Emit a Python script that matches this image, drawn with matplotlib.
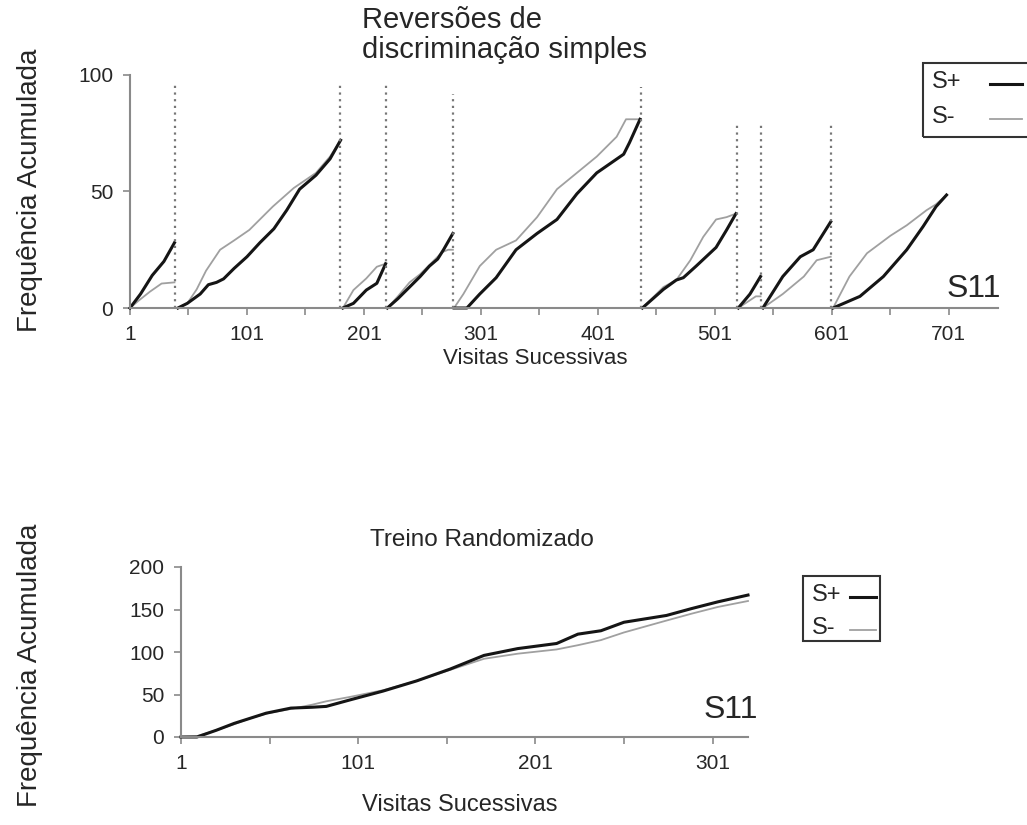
import matplotlib
matplotlib.use('Agg')
import matplotlib.pyplot as plt
from matplotlib.ticker import MultipleLocator, FixedLocator
from matplotlib.patches import Rectangle
from matplotlib.lines import Line2D

plt.rcParams['font.family'] = ['Liberation Sans', 'DejaVu Sans']

# ---- top panel: reversals, one list per phase ----
splus_x = [[1, 10, 20, 30, 39],
           [42, 50, 61, 68, 75, 81, 90, 101, 112, 124, 135, 146, 160, 172, 181],
           [183, 192, 203, 212, 219.5],
           [221, 230, 240, 249, 257, 264, 269, 277],
           [278, 289, 300, 314, 331, 349, 366, 383, 400, 423, 428, 437],
           [439, 457, 468, 474, 485, 502, 511, 519],
           [521, 531, 540],
           [542, 559, 574, 585, 600],
           [602, 625, 645, 665, 679, 690, 699]]
splus_y = [[0, 6, 14, 20, 28],
           [0, 2, 6, 10, 11, 12.5, 17, 22, 28, 34, 42, 51, 57, 64, 72],
           [0, 2, 7.7, 10.6, 19],
           [0, 4, 9, 13.5, 18, 21, 25, 32],
           [0, 0, 6, 13, 25, 32, 38, 49, 58, 66, 71, 81],
           [0, 8, 12, 13, 18, 26, 33.5, 40.5],
           [0, 6, 13.5],
           [0, 13.5, 22, 25, 37],
           [0, 5, 13.5, 25, 35, 43.5, 48.5]]
sminus_x = [[1, 8, 18, 28, 39],
            [42, 50, 58, 66, 78, 90, 103, 123, 141, 160, 172, 181],
            [183, 192, 203, 212, 219.5],
            [221, 230, 240, 249, 258, 268, 273, 277],
            [278, 286, 300, 314, 331, 349, 366, 383, 400, 417, 425, 437],
            [439, 457, 468, 480, 491, 502, 511, 519],
            [521, 530, 536, 540],
            [542, 559, 577, 588, 600],
            [602, 616, 631, 651, 665, 682, 690, 699]]
sminus_y = [[0, 3, 7, 10.5, 11],
            [0, 2, 8, 16, 25, 29, 33.5, 43.5, 51.5, 58, 65, 72],
            [0, 7.7, 12.7, 17.7, 19],
            [0, 5, 11, 14.5, 19, 24, 25, 25],
            [0, 6, 18, 25, 29, 39, 51, 58, 65, 73.5, 81, 81],
            [0, 9, 12, 20.5, 30.5, 38, 39, 40.5],
            [0, 3, 5, 5],
            [0, 6, 13.5, 20.5, 22],
            [0, 13.5, 23.5, 31, 35.5, 42, 44.5, 48.5]]
rev_x = [39.5, 180.5, 219.5, 277.5, 437.5, 519.5, 540.5, 600.5]
rev_top = [97, 97, 97, 92, 95, 79, 79, 79]

# ---- bottom panel: randomized training ----
rand_plus_x = [1, 10, 21, 31, 40, 49, 63, 75, 83, 97, 115, 134, 153, 172, 191, 213, 225, 238, 251, 275, 289, 304, 321]
rand_plus_y = [0, 0, 8, 16, 22, 28, 34, 35, 36, 44, 54, 66, 80, 96, 104, 110, 121, 125, 135, 143, 151, 159, 167]
rand_minus_x = [1, 10, 21, 31, 40, 50, 63, 75, 83, 96, 115, 134, 153, 172, 191, 213, 225, 238, 251, 275, 289, 304, 321]
rand_minus_y = [0, 1, 8, 15, 22, 28, 33, 38, 42, 47, 55, 66, 79, 92, 98, 103, 108, 114, 123, 137, 145, 153, 160]

BLACK = '#151515'
GRAY = '#a0a0a0'
AXC = '#8a8a8a'
TXT = '#262626'

W, H = 1027, 825
fig = plt.figure(figsize=(W / 100, H / 100), dpi=100)


def fx(x, y):
    # pixel position (from top left) -> figure fraction
    return x / W, 1 - y / H


def style_axes(ax):
    for s in ['top', 'right']:
        ax.spines[s].set_visible(False)
    for s in ['left', 'bottom']:
        ax.spines[s].set_color(AXC)
        ax.spines[s].set_linewidth(1.5)
    ax.tick_params(which='both', direction='out', length=5, width=1.2, color=AXC,
                   labelsize=15, labelcolor=TXT, pad=7)
    ax.tick_params(axis='x', pad=7)


def box_legend(x0, y0, x1, y1, rows, fs):
    # rows: (label, text x, line x0, line x1, y, color, lw)
    fig.patches.append(Rectangle(fx(x0, y1), (x1 - x0) / W, (y1 - y0) / H,
                                 transform=fig.transFigure, fill=False,
                                 edgecolor='#333333', lw=1.5))
    for lab, tx, lx0, lx1, y, c, lw in rows:
        fig.text(*fx(tx, y), lab, ha='left', va='center', fontsize=fs, color=TXT)
        a, b = fx(lx0, y + 2)
        c2, _ = fx(lx1, y + 2)
        fig.lines.append(Line2D([a, c2], [b, b], transform=fig.transFigure, color=c, lw=lw))


ax1 = fig.add_axes([130 / W, 1 - 308 / H, 868 / W, 233 / H])
for xs, ys in zip(sminus_x, sminus_y):
    ax1.plot(xs, ys, color=GRAY, lw=1.3, clip_on=False)
for xs, ys in zip(splus_x, splus_y):
    ax1.plot(xs, ys, color=BLACK, lw=2.2, clip_on=False)
ax1.vlines(rev_x, 0, rev_top, colors='#777777', linestyles=(0, (1, 2)), lw=1.6)
ax1.set_xlim(1, 743)
ax1.set_ylim(0, 100)
ax1.xaxis.set_major_locator(FixedLocator(list(range(1, 702, 100))))
ax1.xaxis.set_minor_locator(FixedLocator(list(range(51, 702, 100))))
ax1.yaxis.set_major_locator(MultipleLocator(50))
style_axes(ax1)

box_legend(923, 63, 1040, 137,
           [('S+', 932, 990, 1022, 82, BLACK, 2.2),
            ('S-', 932, 990, 1022, 117, GRAY, 1.3)], 17)

fig.text(*fx(362, 6), 'Reversões de\ndiscriminação simples', ha='left', va='top',
         fontsize=21, color=TXT, linespacing=1.1)
fig.text(*fx(535, 358), 'Visitas Sucessivas', ha='center', va='center', fontsize=16, color=TXT)
fig.text(*fx(30, 190), 'Frequência Acumulada', ha='center', va='center', rotation=90,
         fontsize=20, color=TXT)
fig.text(*fx(1001, 297), 'S11', ha='right', va='baseline', fontsize=23, color=TXT)

ax2 = fig.add_axes([181 / W, 1 - 737 / H, 567 / W, 170 / H])
ax2.plot(rand_minus_x, rand_minus_y, color=GRAY, lw=1.3, clip_on=False)
ax2.plot(rand_plus_x, rand_plus_y, color=BLACK, lw=2.2, clip_on=False)
ax2.set_xlim(1, 321)
ax2.set_ylim(0, 200)
ax2.xaxis.set_major_locator(FixedLocator([1, 101, 201, 301]))
ax2.xaxis.set_minor_locator(FixedLocator([51, 151, 251]))
ax2.yaxis.set_major_locator(MultipleLocator(50))
style_axes(ax2)

box_legend(803, 576, 880, 641,
           [('S+', 812, 850, 876, 595, BLACK, 2.2),
            ('S-', 812, 850, 876, 628, GRAY, 1.3)], 17)

fig.text(*fx(482, 540), 'Treino Randomizado', ha='center', va='center', fontsize=17.5, color=TXT)
fig.text(*fx(460, 805), 'Visitas Sucessivas', ha='center', va='center', fontsize=17, color=TXT)
fig.text(*fx(30, 665), 'Frequência Acumulada', ha='center', va='center', rotation=90,
         fontsize=20, color=TXT)
fig.text(*fx(758, 718), 'S11', ha='right', va='baseline', fontsize=23, color=TXT)

fig.savefig('out.png', dpi=100)
